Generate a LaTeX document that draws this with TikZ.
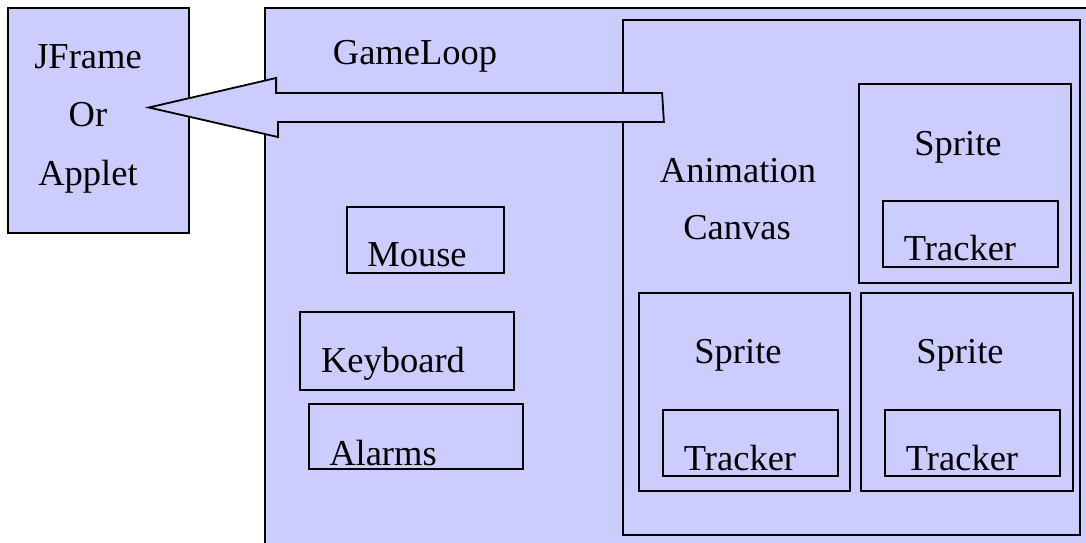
\documentclass[tikz,border=0pt]{standalone}
\usepackage{fontspec}
\setmainfont{Liberation Serif}
\usetikzlibrary{fit}
\definecolor{lav}{HTML}{CCCCFF}
\tikzset{
  box/.style={draw=black, fill=lav, line width=1.8pt, inner sep=0pt, rectangle},
  lbl/.style={anchor=base, inner sep=0pt, font=\fontsize{36.5}{40}\selectfont},
  blockarrow/.style={draw=black, fill=lav, line width=1.8pt, line join=miter}
}
\begin{document}
\begin{tikzpicture}[x=1pt, y=-1pt]
  \useasboundingbox (0,0) rectangle (1086,543);
  \clip (0,0) rectangle (1086,543);

  % containers
  \node[box, fit={(265,8) (1110,570)}] (gameloop) {};
  \node[box, fit={(8,8) (189,233)}] (jframe) {};
  \node[box, fit={(623,20) (1080,535)}] (canvas) {};

  % sprites with their trackers
  \node[box, fit={(859,84) (1071,283)}] (sprite1) {};
  \node[box, fit={(883,201) (1058,267)}] (tracker1) {};
  \node[box, fit={(639,293) (850,491)}] (sprite2) {};
  \node[box, fit={(663,410) (838,476)}] (tracker2) {};
  \node[box, fit={(861,293) (1073,491)}] (sprite3) {};
  \node[box, fit={(885,410) (1060,476)}] (tracker3) {};

  % input handlers
  \node[box, fit={(347,207) (504,273)}] (mouse) {};
  \node[box, fit={(300,312) (514,390)}] (keyboard) {};
  \node[box, fit={(309,404) (523,469)}] (alarms) {};

  % block arrow from the canvas to the frame
  \coordinate (tail) at ([xshift=40pt]canvas.west |- 0,107.5);
  \coordinate (tip) at ([xshift=-41pt]jframe.east |- 0,107.5);
  \draw[blockarrow] (tail) ++(0,-14.5) -- ++(-386,0) -- ++(0,-15)
        -- (tip) -- ++(129,29.5) -- ++(0,-15) -- ++(386,0) -- cycle;

  % labels
  \node[lbl] (tJFrame) at (88,68) {JFrame};
  \node[lbl] (tOr) at (88,126) {Or};
  \node[lbl] (tApplet) at (88,185) {Applet};
  \node[lbl] (tGameLoop) at (415,64) {GameLoop};
  \node[lbl] (tAnim) at (738,182) {Animation};
  \node[lbl] (tCanvas) at (737,239) {Canvas};
  \node[lbl] (tS1) at (958,155) {Sprite};
  \node[lbl] (tT1) at (960,260) {Tracker};
  \node[lbl] (tS2) at (738,363) {Sprite};
  \node[lbl] (tT2) at (740,470) {Tracker};
  \node[lbl] (tS3) at (960,363) {Sprite};
  \node[lbl] (tT3) at (962,470) {Tracker};
  \node[lbl] (tMouse) at (417,266) {Mouse};
  \node[lbl] (tKeyboard) at (393,372) {Keyboard};
  \node[lbl] (tAlarms) at (383,465) {Alarms};
\end{tikzpicture}
\end{document}
